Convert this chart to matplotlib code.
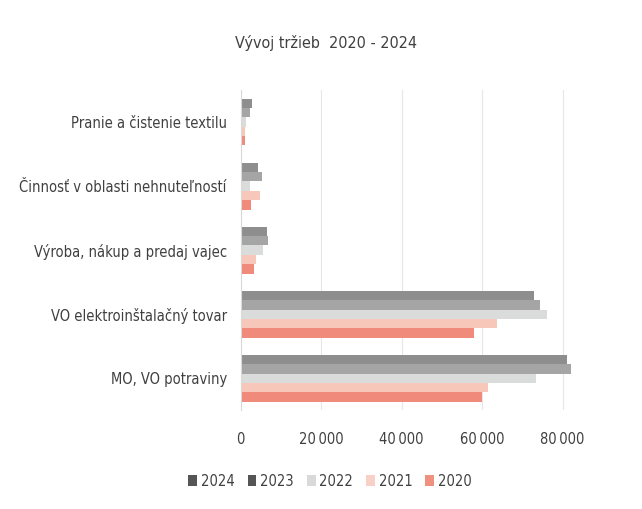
import matplotlib
matplotlib.use("Agg")
import matplotlib.pyplot as plt
import numpy as np
from matplotlib.ticker import FuncFormatter

categories = ["MO, VO potraviny", "VO elektroinštalačný tovar", "Výroba, nákup a predaj vajec",
              "Činnosť v oblasti nehnuteľností", "Pranie a čistenie textilu"]
years = ["2024", "2023", "2022", "2021", "2020"]
values = {
    "2024": [81200, 73000, 6600, 4200, 2700],
    "2023": [82000, 74500, 6700, 5300, 2300],
    "2022": [73300, 76200, 5500, 2200, 1300],
    "2021": [61500, 63700, 3800, 4700, 1000],
    "2020": [60000, 58000, 3300, 2500, 1000],
}
colors = {"2024": "#8e8e8e", "2023": "#a5a5a5", "2022": "#d9dcdb", "2021": "#f7c8b9", "2020": "#f08a7a"}
legend_colors = {"2024": "#555555", "2023": "#555555", "2022": "#d9d9d9", "2021": "#f9d0c8", "2020": "#f0907f"}

plt.rcParams['font.family'] = ['DejaVu Sans']
plt.rcParams['font.stretch'] = 'condensed'
fig = plt.figure(figsize=(6.42, 5.09), dpi=100)
ax = fig.add_axes([0.375, 0.194, 0.564, 0.629])

y = np.arange(len(categories))
h = 0.146
for i, yr in enumerate(years):
    off = (2 - i) * h
    ax.barh(y + off, values[yr], height=h, color=colors[yr], label=yr)

ax.set_yticks(y)
ax.set_yticklabels(categories, fontsize=10.5, color="#404040")
ax.set_ylim(-0.5, len(categories) - 0.5)
ax.set_xlim(0, 90000)
ax.set_xticks([0, 20000, 40000, 60000, 80000])
ax.xaxis.set_major_formatter(FuncFormatter(lambda v, p: f"{int(v):,}".replace(",", "\u2009")))
ax.tick_params(axis='x', labelsize=10.5, colors="#404040", length=0, pad=16)
ax.tick_params(axis='y', length=0, pad=10)
ax.grid(axis='x', color="#e6e6e6", linewidth=0.8)
ax.set_axisbelow(True)
for s in ["top", "right", "bottom"]:
    ax.spines[s].set_visible(False)
ax.spines["left"].set_color("#d9d9d9")

fig.text(0.508, 0.905, "Vývoj tržieb  2020 - 2024", ha="center", fontsize=11.5, color="#404040")
leg = fig.legend(loc="center", bbox_to_anchor=(0.514, 0.055), ncol=5, frameon=False, fontsize=10.5,
                 handlelength=0.6, handleheight=0.7, handletextpad=0.25, columnspacing=0.9,
                 labelcolor="#404040")
for hnd, yr in zip(leg.legend_handles, years):
    hnd.set_facecolor(legend_colors[yr])

fig.savefig("out.png", dpi=100)
